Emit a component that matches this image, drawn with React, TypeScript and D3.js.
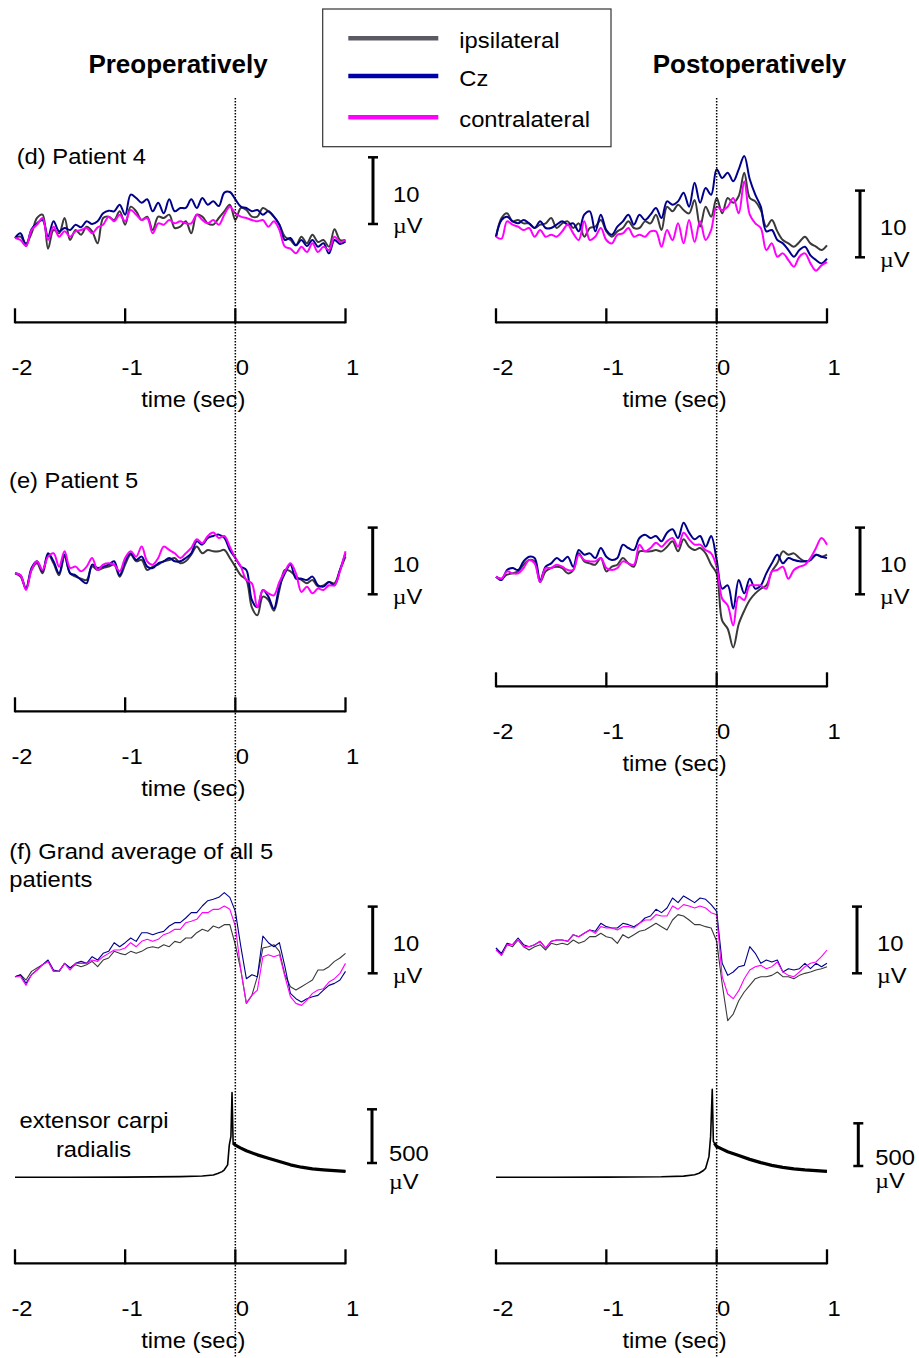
import React from "react";
import * as d3 from "d3";

// ---------- DATA (µV, sampled every 0.05 s from -2 s to +1 s) ----------
const TIME = d3.range(61).map((i) => -2 + i * 0.05);
const TICKS = [-2, -1, 0, 1];
const SERIES_NAMES = ["ipsilateral", "Cz", "contralateral"];

// (d) Patient 4
const P4_PRE_IPSI = [0,0.2,-0.8,0.7,3.0,3.5,-1.6,1.2,0.7,3.0,-0.3,1.2,0.5,1.7,1.0,-0.8,3.0,3.2,2.7,4.0,2.0,4.7,4.0,2.7,3.2,1.2,3.2,3.0,3.5,1.5,1.7,2.5,0.7,3.5,3.2,2.2,2.0,3.0,4.0,5.0,2.7,4.5,4.2,3.2,3.2,4.5,4.0,3.2,2.0,0.2,-0.3,-1.1,0.2,-0.8,0.5,-0.6,-0.3,-1.3,1.3,-0.3,-0.3];
const P4_PRE_CZ = [0,0.7,-1.2,1.3,2.2,2.7,0.2,2.5,1.0,1.5,1.2,2.0,1.6,2.5,2.1,2.5,3.7,4.1,4.0,5.0,3.5,6.5,6.0,5.3,5.8,4.0,5.3,3.7,5.8,4.0,4.5,4.5,5.8,4.5,6.0,5.0,5.5,4.8,6.8,6.9,5.8,4.7,4.5,4.0,4.2,3.5,4.0,3.2,2.0,-0.3,0,-1.1,-0.3,-1.2,-0.3,-1.3,-0.8,-2.3,-0.3,-0.9,-0.5];
const P4_PRE_CONTRA = [0,-0.3,-1.2,1.2,2.0,3.0,-0.3,1.7,0.2,1.0,0.2,1.0,1.2,1.5,0.7,1.6,2.0,3.2,2.5,3.5,2.5,4.2,3.5,2.7,3.0,0.7,2.2,2.0,2.7,2.2,2.5,2.2,2.2,3.5,2.7,2.2,2.7,2.0,3.5,4.7,3.7,3.2,3.0,2.7,2.5,2.7,1.7,2.5,1.2,-1.3,-1.6,-2.3,-1.3,-2.1,-0.8,-2.1,-1.3,-1.8,0.2,-0.6,-0.3];
const P4_POST_IPSI = [0,2.8,3.5,2.3,2.5,2.0,2.0,1.3,1.8,2.0,2.8,1.3,2.0,2.3,1.3,2.0,0,1.3,1.5,2.5,0.8,0,0.8,1.3,2.3,1.3,1.3,2.3,2.0,3.3,1.0,4.5,3.8,4.8,4.0,3.5,5.5,1.5,4.5,3.0,5.8,3.5,5.8,5.1,6.1,9.6,5.8,5.3,4.0,1.5,2.5,0.8,-0.5,-1.0,-1.5,-0.8,0,-1.0,-1.5,-2.0,-1.3];
const P4_POST_CZ = [0,2.5,3.0,2.3,2.0,2.5,2.0,1.3,2.3,1.3,1.3,1.8,2.3,1.8,2.0,0.8,3.3,3.8,0.8,3.3,1.0,0.3,1.5,2.3,3.3,1.8,3.3,2.5,3.3,4.3,2.8,5.3,4.8,5.3,6.6,4.5,8.1,5.1,7.3,6.3,10.1,8.8,9.6,8.3,10.1,12.1,8.6,6.3,4.5,0.8,1.0,-0.5,-1.0,-2.0,-3.0,-2.0,-1.5,-2.8,-3.5,-4.0,-3.3];
const P4_POST_CONTRA = [0,-0.3,2.3,1.8,1.5,1.0,1.3,0,1.0,0,0.3,0,0.8,1.8,0.5,-0.5,2.3,-0.5,0,1.3,-0.5,-1.0,0.3,0.5,1.3,0,0.3,0,0.8,0.8,-1.5,1.0,-0.5,2.0,-1.0,2.5,-0.8,2.3,-0.5,1.0,4.5,4.0,4.5,5.8,3.5,8.3,3.3,2.0,1.3,-2.0,-1.0,-3.0,-2.5,-3.5,-4.5,-3.0,-2.5,-4.0,-5.1,-4.3,-3.8];

// (e) Patient 5
const P5_PRE_IPSI = [0,-0.5,-2.3,0.5,1.5,0,2.8,1.5,-0.3,2.5,0,-0.5,-0.8,-1.0,1.0,0.5,0.8,1.0,1.3,-0.5,1.3,2.8,1.8,2.0,0.5,1.0,1.3,1.8,2.0,2.3,1.5,1.8,2.8,4.0,3.0,3.5,3.3,3.3,3.5,2.3,1.0,-0.3,-1.0,-5.1,-6.3,-3.5,-4.0,-5.6,-2.5,0.5,0.3,-0.5,-1.0,-1.5,-1.0,-2.0,-1.8,-1.3,-1.5,0.5,2.5];
const P5_PRE_CZ = [0,-0.3,-2.3,0.8,1.8,0.3,3.0,1.8,0,2.8,0,-0.3,-1.0,-1.5,1.3,0.8,1.0,1.3,1.8,-0.3,1.8,3.0,2.0,2.5,1.0,0.8,1.5,1.8,2.3,1.8,1.8,2.3,3.0,4.8,4.3,5.3,5.6,5.8,5.3,3.5,2.3,1.0,0.5,-4.0,-5.1,-2.5,-3.5,-5.3,-2.0,0,1.3,-0.8,-0.8,-1.0,-0.5,-1.8,-2.0,-1.3,-1.8,0.5,3.0];
const P5_PRE_CONTRA = [0,-0.3,-2.5,0.5,1.8,0.5,2.5,3.0,1.0,3.3,0.8,1.0,0.3,1.0,2.3,0.5,1.3,1.5,1.3,0.3,2.3,3.3,2.5,4.0,1.8,1.3,2.3,4.0,3.5,3.0,2.3,3.0,3.8,5.1,4.5,5.6,6.1,5.3,5.6,4.0,2.3,1.0,-1.0,-1.5,-5.1,-2.5,-3.0,-3.3,-1.3,0.3,1.5,0,-2.8,-2.0,-3.0,-2.3,-2.5,-1.8,-1.8,0.3,3.3];
const P5_POST_IPSI = [0,-0.3,0.3,0.5,0.8,1.8,2.5,2.3,-0.8,0.8,1.3,1.5,1.3,0.5,1.0,3.5,2.3,2.0,1.8,2.8,0.8,1.5,1.8,2.8,2.0,1.5,3.8,3.8,3.8,4.0,3.8,4.5,5.3,3.8,5.6,4.5,4.0,4.3,3.5,1.8,0.5,-6.6,-7.8,-10.6,-7.1,-5.1,-3.5,-2.5,-1.8,-1.3,0.8,2.0,3.8,3.3,3.5,2.8,2.3,2.5,3.3,3.0,3.3];
const P5_POST_CZ = [0,-0.5,1.0,1.3,1.0,2.3,3.0,2.8,-0.5,1.5,2.0,2.8,2.3,3.0,1.5,4.0,3.3,3.5,2.8,4.3,3.0,2.5,2.8,4.8,4.3,4.0,5.8,6.3,5.8,6.1,5.3,6.6,7.1,5.8,8.1,6.6,5.6,6.1,4.5,6.1,2.5,-1.8,-1.3,-4.8,-0.5,-2.5,-0.3,-1.8,-1.3,0.5,2.0,3.3,2.0,2.8,2.5,2.3,2.3,2.5,3.3,3.0,2.8];
const P5_POST_CONTRA = [0,-0.3,0.8,0.5,0.5,1.3,2.5,2.0,-0.8,1.3,1.3,1.8,1.5,1.0,1.0,3.3,2.5,2.3,2.3,2.8,1.3,1.0,1.3,2.3,2.0,1.8,4.8,3.8,4.3,5.1,4.5,5.3,5.8,4.5,6.6,5.6,4.8,4.8,4.0,3.5,1.5,-3.3,-4.3,-7.3,-3.0,-3.5,-1.3,-1.3,-1.3,-1.8,0.8,1.0,1.5,-0.3,1.0,1.5,1.8,2.8,4.3,5.8,4.8];

// (f) Grand average of all 5 patients
const GA_PRE_IPSI = [0,0.3,-0.5,0.8,1.3,1.8,2.3,0.8,0.8,2.0,1.3,1.8,1.5,1.8,2.3,1.5,2.5,2.8,3.8,3.5,3.3,3.8,3.5,3.8,4.3,4.5,4.3,4.8,4.5,5.3,5.1,5.8,5.8,6.6,7.1,6.8,7.6,7.3,7.8,7.8,4.8,1.0,-4.0,-2.8,0,4.3,4.5,4.8,3.8,0.3,-1.5,-2.0,-1.5,-1.0,-0.5,1.0,1.0,1.5,2.3,2.8,3.5];
const GA_PRE_CZ = [0,0.3,-1.0,0.3,1.0,1.8,2.5,1.0,0.8,2.0,1.3,2.0,2.3,2.0,3.0,2.5,3.5,3.8,5.1,4.5,5.1,5.8,5.3,6.6,6.6,6.3,6.6,6.8,7.6,8.1,8.1,8.8,9.6,9.6,10.6,11.4,11.6,11.9,12.6,11.9,9.8,4.5,-0.3,0.3,0,6.1,5.1,4.5,5.1,1.5,-2.5,-3.3,-3.8,-3.3,-3.0,-2.8,-2.0,-1.3,-1.0,-0.5,0.8];
const GA_PRE_CONTRA = [0,0,-1.3,0.3,1.0,1.8,2.3,0.8,0.8,2.0,1.0,2.0,2.0,2.0,2.5,2.3,3.0,3.5,4.0,4.0,4.3,5.1,4.5,5.3,5.6,5.3,5.6,6.3,6.6,7.1,7.1,8.1,8.3,8.6,9.6,9.6,10.1,10.1,10.6,10.1,7.6,1.0,-4.0,-2.8,-2.0,3.0,3.3,3.0,3.3,0,-3.0,-4.0,-4.3,-3.5,-2.5,-2.0,-1.8,-0.8,-0.3,0.5,2.0];
const GA_POST_IPSI = [0.3,-0.8,0.8,0.5,1.5,0.5,0,0.5,0.8,0,1.0,0.8,1.0,0.8,1.5,1.0,1.3,2.0,2.0,2.5,2.0,1.8,1.0,2.3,1.8,2.3,2.8,3.0,3.5,4.0,3.5,3.0,4.5,5.3,5.1,4.5,3.8,3.8,3.5,3.3,1.3,-5.1,-10.6,-9.6,-7.6,-6.3,-5.3,-4.3,-4.0,-4.0,-3.8,-3.3,-4.0,-4.0,-4.3,-3.8,-3.5,-3.3,-3.0,-2.8,-2.5];
const GA_POST_CZ = [0.3,-0.5,1.0,0.8,1.8,0.8,0.5,0.8,1.3,0.3,1.3,1.5,1.5,1.3,2.3,2.0,2.5,3.0,2.8,4.0,3.5,3.3,3.3,4.0,3.8,3.5,4.0,4.8,5.1,6.1,5.6,6.3,7.8,7.1,8.1,7.6,7.1,7.8,7.6,6.8,5.8,-2.0,-3.8,-3.3,-2.5,-2.3,0.5,-0.5,-2.0,-1.5,-1.8,-1.5,-3.3,-2.8,-3.0,-2.8,-2.0,-2.8,-2.0,-2.5,-2.0];
const GA_POST_CONTRA = [0,-0.8,0.8,0.8,1.5,0.5,0.5,0.8,1.3,0.3,1.3,1.5,1.5,1.3,2.3,2.0,2.5,3.0,2.5,3.5,3.3,3.3,3.0,3.5,3.5,3.3,4.0,4.5,4.5,5.3,5.1,5.1,6.6,6.1,6.8,6.6,6.3,6.6,6.3,5.6,5.3,-4.0,-6.6,-7.3,-6.1,-4.3,-3.0,-2.5,-2.3,-2.8,-2.5,-1.8,-3.3,-3.8,-4.0,-3.3,-2.5,-2.0,-1.8,-1.0,0];

// EMG, extensor carpi radialis (µV)
const EMG_T = [-2,-1.5,-1,-0.5,-0.3,-0.2,-0.16,-0.12,-0.1,-0.07,-0.055,-0.04,-0.03,-0.02,-0.01,0,0.05,0.1,0.2,0.3,0.4,0.5,0.6,0.7,0.8,0.9,1.0];
const EMG_PRE = [0,0,2,6,12,22,35,53,70,116,300,380,790,320,310,300,272,247,209,178,147,116,94,78,69,62,56];
const EMG_POST = [0,0,2,6,14,30,47,80,105,242,476,1030,420,400,380,360,330,300,254,210,172,140,117,98,86,78,70];

// ---------- STYLE / LAYOUT ----------
const W = 919;
const H = 1358;
const FONT = '"Liberation Sans", Arial, Helvetica, sans-serif';
const SX = 1.08;
const COLORS = ["#3a3a3a", "#00008c", "#ff00ff"];
const LEGEND_COLORS = ["#5a5a64", "#0000a8", "#ff00ff"];
const UV_PX = 66.7; // px per 10 µV

const xLeft = d3.scaleLinear().domain([-2, 1]).range([15, 345.5]);
const xRight = d3.scaleLinear().domain([-2, 1]).range([496, 827]);

const EEG_PANELS = [
  { x: xLeft, base: 238, series: [P4_PRE_IPSI, P4_PRE_CZ, P4_PRE_CONTRA], sw: 2, smooth: true, bar: { x: 373, bottom: 224 } },
  { x: xRight, base: 236.7, series: [P4_POST_IPSI, P4_POST_CZ, P4_POST_CONTRA], sw: 2, smooth: true, bar: { x: 860, bottom: 257.3 } },
  { x: xLeft, base: 573.3, series: [P5_PRE_IPSI, P5_PRE_CZ, P5_PRE_CONTRA], sw: 2, smooth: true, bar: { x: 372.7, bottom: 594.3 } },
  { x: xRight, base: 576.7, series: [P5_POST_IPSI, P5_POST_CZ, P5_POST_CONTRA], sw: 2, smooth: true, bar: { x: 860, bottom: 594.3 } },
  { x: xLeft, base: 976.7, series: [GA_PRE_IPSI, GA_PRE_CZ, GA_PRE_CONTRA], sw: 1.1, smooth: false, bar: { x: 372.7, bottom: 973.3 } },
  { x: xRight, base: 950, series: [GA_POST_IPSI, GA_POST_CZ, GA_POST_CONTRA], sw: 1.1, smooth: false, bar: { x: 857, bottom: 973.3 } },
];

const EMG_PANELS = [
  { x: xLeft, base: 1177.3, px500: 53.7, values: EMG_PRE, bar: { x: 372, bottom: 1163 }, lab500: 1160.7, labUv: 1189 },
  { x: xRight, base: 1177.3, px500: 42.7, values: EMG_POST, bar: { x: 858.3, bottom: 1166 }, lab500: 1165, labUv: 1188 },
];

const AXES = [
  { x: xLeft, y: 322.3 },
  { x: xRight, y: 322.3 },
  { x: xLeft, y: 711.3 },
  { x: xRight, y: 686.3 },
  { x: xLeft, y: 1263.3 },
  { x: xRight, y: 1263.3 },
];

function Label({ x, y, children, anchor = "start", size = 22, weight = "normal", sx = SX }: any) {
  return (
    <text
      transform={`translate(${x},${y}) scale(${sx},1)`}
      textAnchor={anchor}
      fontSize={size}
      fontWeight={weight}
      fontFamily={FONT}
      fill="#000"
    >
      {children}
    </text>
  );
}

function Mu() {
  return <tspan fontFamily='"Liberation Serif", "Times New Roman", serif'>µ</tspan>;
}

function ScaleBar({ x, top, bottom }: { x: number; top: number; bottom: number }) {
  return (
    <g stroke="#000">
      <line x1={x} x2={x} y1={top} y2={bottom} strokeWidth={3} />
      <line x1={x - 5} x2={x + 5} y1={top} y2={top} strokeWidth={2.5} />
      <line x1={x - 5} x2={x + 5} y1={bottom} y2={bottom} strokeWidth={2.5} />
    </g>
  );
}

export default function App() {
  return (
    <svg
      width={W}
      height={H}
      viewBox={`0 0 ${W} ${H}`}
      style={{ position: "absolute", left: 0, top: 0, display: "block", background: "#fff" }}
    >
      <rect x={0} y={0} width={W} height={H} fill="#fff" />

      {/* titles */}
      <Label x={178} y={73.3} anchor="middle" size={26} weight="bold" sx={1}>Preoperatively</Label>
      <Label x={749.5} y={73.3} anchor="middle" size={26} weight="bold" sx={1}>Postoperatively</Label>

      {/* legend */}
      <rect x={322.7} y={9} width={288.3} height={137.7} fill="#fff" stroke="#333" strokeWidth={1.2} />
      {SERIES_NAMES.map((name, i) => {
        const ly = [38.3, 76, 117.3][i];
        return (
          <g key={name}>
            <line x1={348.3} x2={438.3} y1={ly} y2={ly} stroke={LEGEND_COLORS[i]} strokeWidth={4.5} />
            <Label x={459.3} y={ly + 9.5}>{name}</Label>
          </g>
        );
      })}

      {/* panel labels */}
      <Label x={16.7} y={164}>(d) Patient 4</Label>
      <Label x={9} y={488}>(e) Patient 5</Label>
      <Label x={9.3} y={859.3}>(f) Grand average of all 5</Label>
      <Label x={9.3} y={886.7}>patients</Label>
      <Label x={94} y={1128.3} anchor="middle">extensor carpi</Label>
      <Label x={93.5} y={1156.7} anchor="middle">radialis</Label>

      {/* EEG traces */}
      {EEG_PANELS.map((p, pi) => {
        const y = d3.scaleLinear().domain([0, 10]).range([p.base, p.base - UV_PX]);
        const line = d3
          .line<number>()
          .x((_, i) => p.x(TIME[i]))
          .y((v) => y(v))
          .curve(p.smooth ? d3.curveCatmullRom.alpha(0.5) : d3.curveLinear);
        const barTop = p.bar.bottom - UV_PX;
        return (
          <g key={pi}>
            {p.series.map((s, si) => (
              <path
                key={si}
                d={line(s) || ""}
                fill="none"
                stroke={COLORS[si]}
                strokeWidth={p.sw}
                strokeLinejoin="round"
              />
            ))}
            <ScaleBar x={p.bar.x} top={barTop} bottom={p.bar.bottom} />
            <Label x={p.bar.x + 20} y={p.bar.bottom - 22.3}>10</Label>
            <Label x={p.bar.x + 20} y={p.bar.bottom + 9.3}><Mu />V</Label>
          </g>
        );
      })}

      {/* EMG traces */}
      {EMG_PANELS.map((p, pi) => {
        const y = d3.scaleLinear().domain([0, 500]).range([p.base, p.base - p.px500]);
        const pts = EMG_T.map((t, i) => [p.x(t), y(p.values[i])] as [number, number]);
        const line = d3.line();
        const post = pts.filter((_, i) => EMG_T[i] >= -0.02);
        return (
          <g key={pi}>
            <path d={line(pts) || ""} fill="none" stroke="#000" strokeWidth={1.6} strokeLinejoin="round" />
            <path d={line(post) || ""} fill="none" stroke="#000" strokeWidth={3.2} strokeLinejoin="round" />
            <ScaleBar x={p.bar.x} top={p.bar.bottom - p.px500} bottom={p.bar.bottom} />
            <Label x={p.bar.x + 17} y={p.lab500}>500</Label>
            <Label x={p.bar.x + 17} y={p.labUv}><Mu />V</Label>
          </g>
        );
      })}

      {/* time axes */}
      {AXES.map((a, ai) => {
        const [x0, x1] = a.x.range();
        return (
          <g key={ai}>
            <line x1={x0} x2={x1} y1={a.y} y2={a.y} stroke="#000" strokeWidth={2.3} />
            {TICKS.map((t) => (
              <g key={t}>
                <line x1={a.x(t)} x2={a.x(t)} y1={a.y + 1} y2={a.y - 14} stroke="#000" strokeWidth={2.3} />
                <Label x={a.x(t) + 7} y={a.y + 52.7} anchor="middle">{String(t)}</Label>
              </g>
            ))}
            <Label x={(x0 + x1) / 2 + 13} y={a.y + 84.7} anchor="middle">time (sec)</Label>
          </g>
        );
      })}

      {/* onset (t = 0) dotted lines */}
      {[xLeft, xRight].map((xs, i) => (
        <line
          key={i}
          x1={xs(0)}
          x2={xs(0)}
          y1={98}
          y2={H}
          stroke="#000"
          strokeWidth={1.5}
          strokeDasharray="1.5 1.5"
        />
      ))}
    </svg>
  );
}
